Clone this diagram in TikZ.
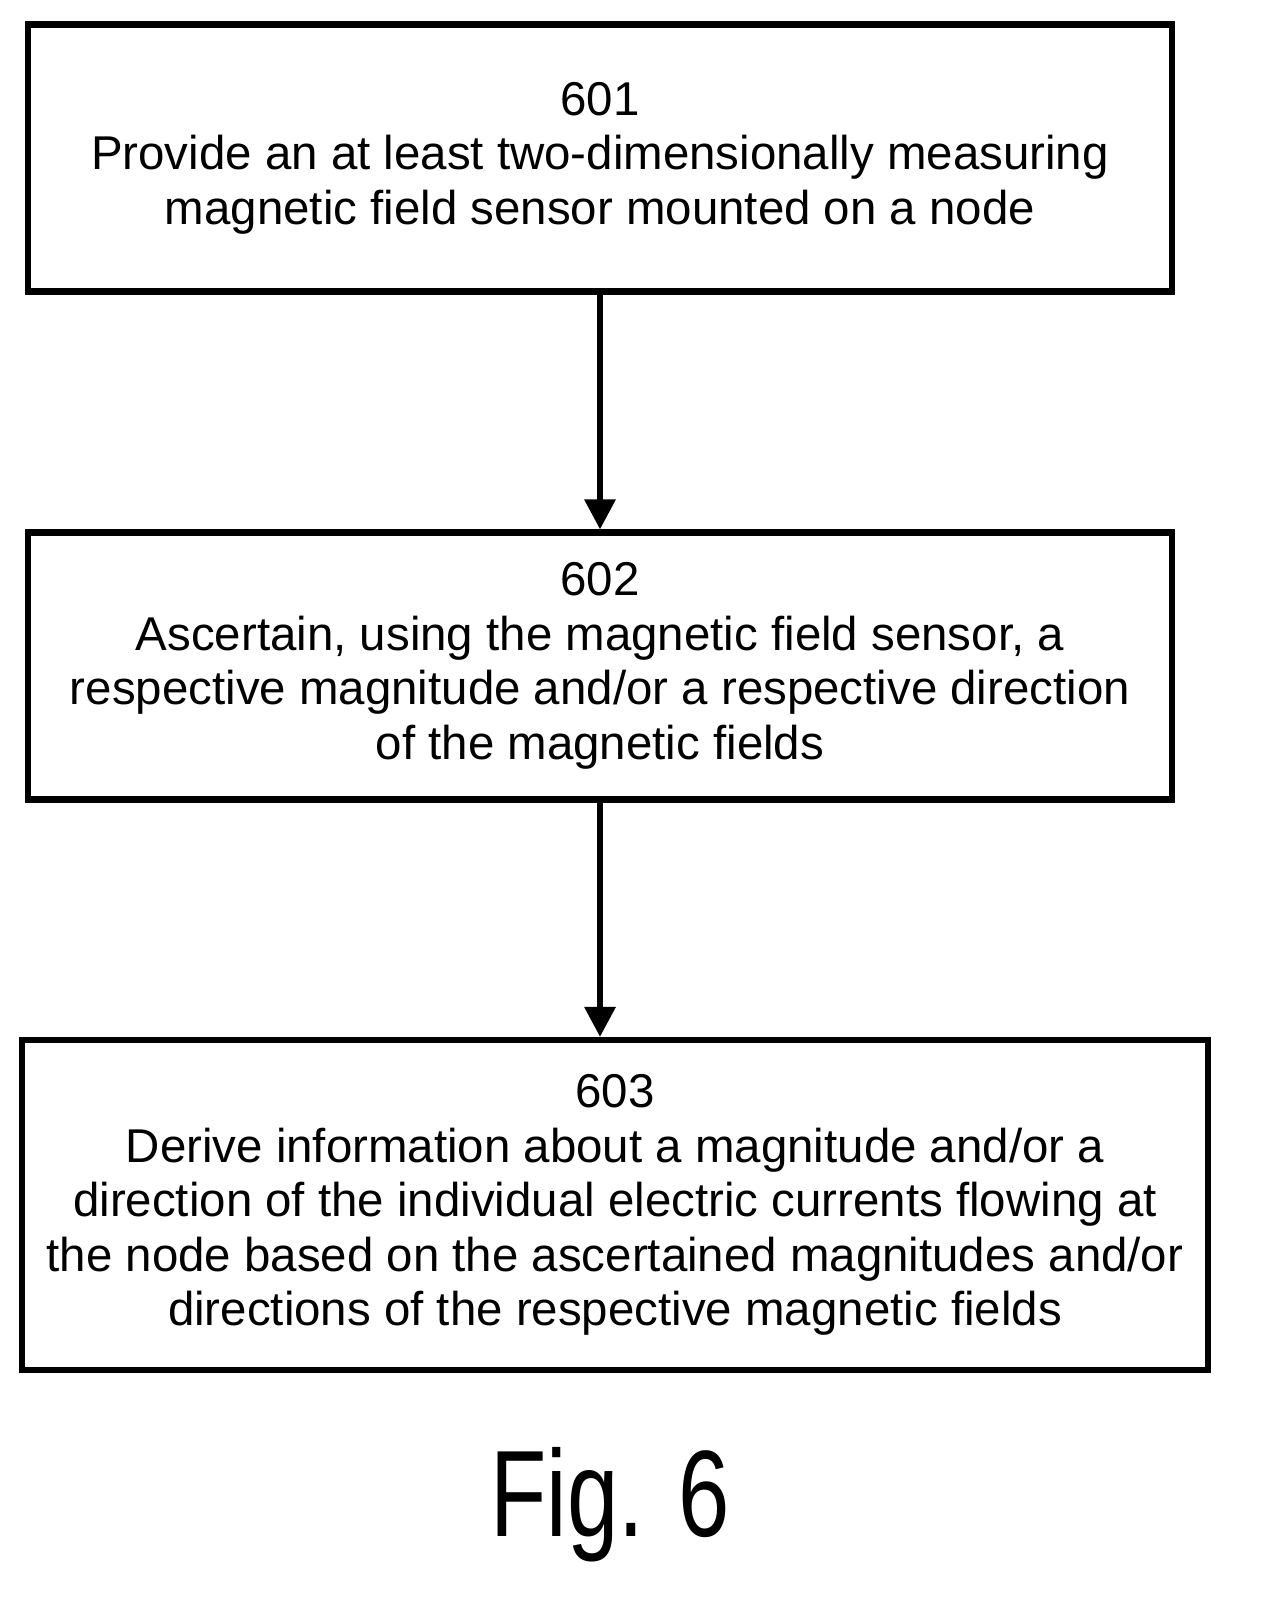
\documentclass[tikz,border=0pt]{standalone}
\usepackage{fontspec}
\setmainfont{Liberation Sans}
\usetikzlibrary{arrows.meta}
\tikzset{
  procstep/.style={
    % The shape:
    shape=rectangle,
    % The border:
    line width=3.5pt,draw=black,
    % The text:
    align=center,font=\fontsize{27}{31}\selectfont}}
\tikzset{
  flow/.style={-{Triangle[length=6mm,width=6mm]},line width=3.5pt}}
\begin{document}
\begin{tikzpicture}[x=0.02cm,y=-0.02cm]
	\useasboundingbox (0,0) rectangle (1262,1608);
	% The three steps
	\node[procstep,minimum width=22.88cm,minimum height=5.34cm] (s601) at (600,158)
		{601\\Provide an at least two-dimensionally measuring\\magnetic field sensor mounted on a node};
	\node[procstep,minimum width=22.88cm,minimum height=5.34cm] (s602) at (600,666)
		{602\\Ascertain, using the magnetic field sensor, a\\respective magnitude and/or a respective direction\\of the magnetic fields};
	\node[procstep,minimum width=23.72cm,minimum height=6.6cm] (s603) at (615,1205)
		{603\\Derive information about a magnitude and/or a\\direction of the individual electric currents flowing at\\the node based on the ascertained magnitudes and/or\\directions of the respective magnetic fields};
	% Lines between the steps
	\draw[flow] (s601.south -| 600,0) -- (s602.north -| 600,0);
	\draw[flow] (s602.south -| 600,0) -- (s603.north -| 600,0);
	% The caption
	\node[font=\fontsize{70}{70}\selectfont,xscale=0.75] (fig) at (610,1505) {Fig. 6};
\end{tikzpicture}
\end{document}
